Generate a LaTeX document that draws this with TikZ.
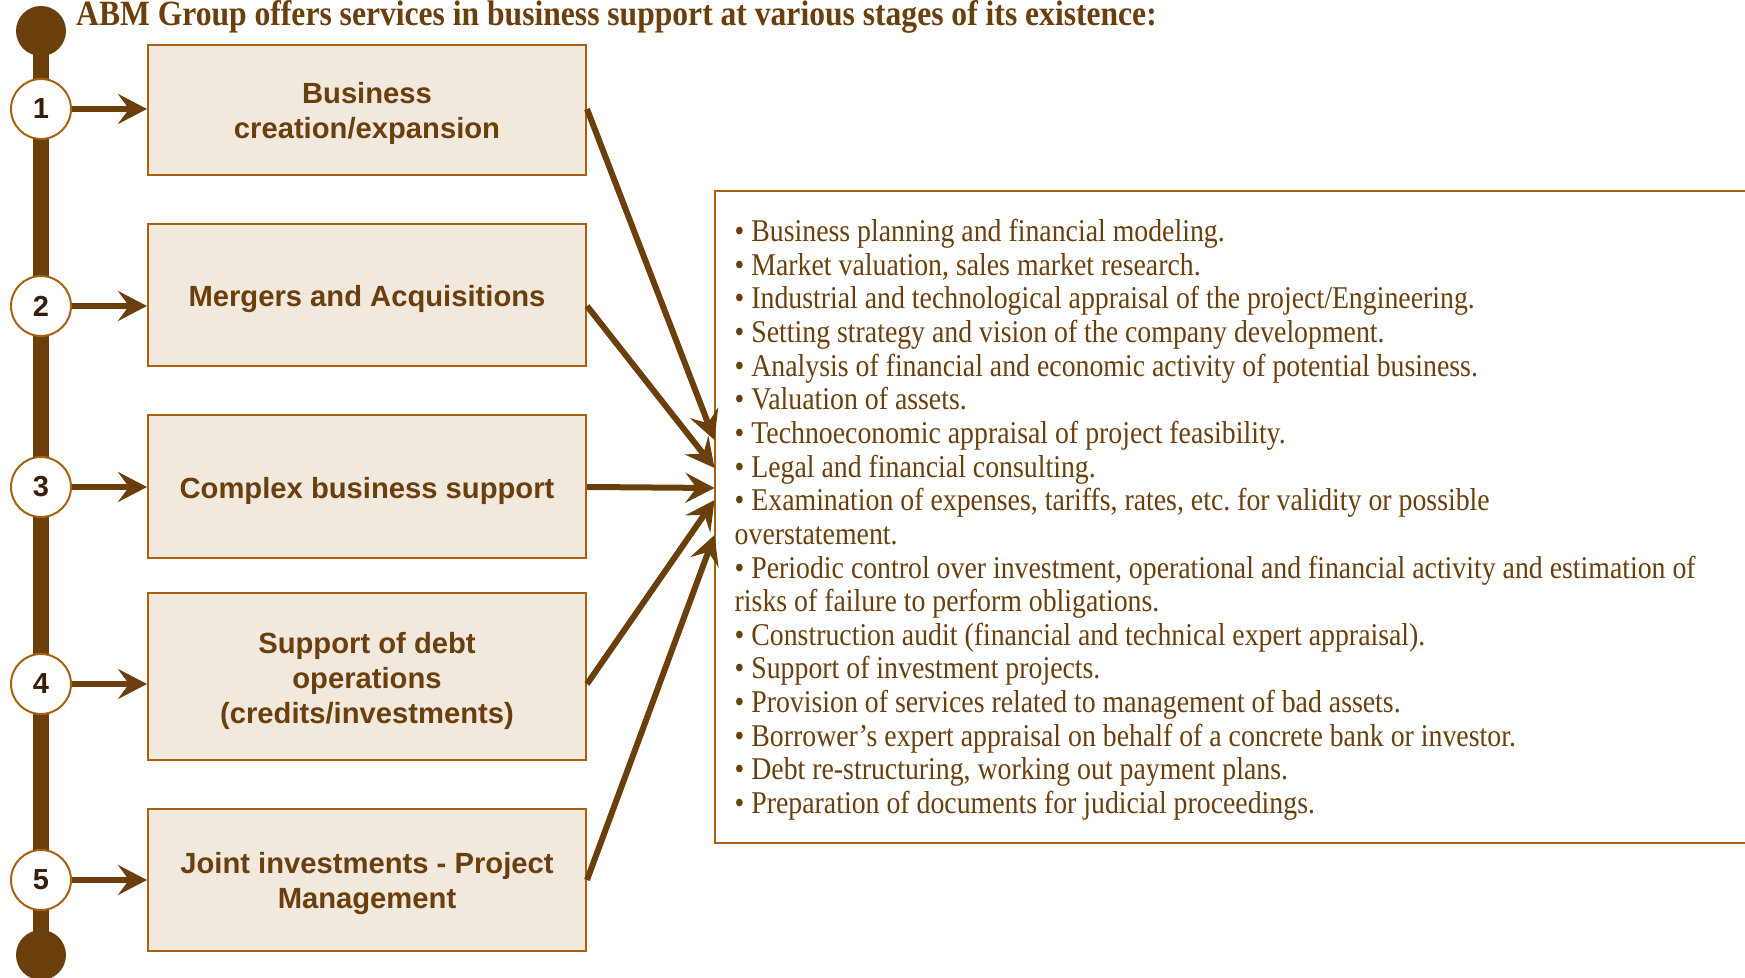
\documentclass[tikz,border=0pt]{standalone}
\usepackage{fontspec}
\setmainfont[FakeStretch=0.877]{Liberation Serif}
\setsansfont{Liberation Sans}
\newfontfamily\titlefont[FakeStretch=0.89]{Liberation Serif}
\usetikzlibrary{arrows.meta}
\frenchspacing
\definecolor{abmbrown}{HTML}{6B3F0C}
\definecolor{abmline}{HTML}{A8610F}
\definecolor{abmfill}{HTML}{F1E8DE}
\definecolor{abmnum}{HTML}{3A1D08}
\tikzstyle{enddot} = [circle, fill=abmbrown, minimum size=50pt, inner sep=0pt]
\tikzstyle{num}    = [circle, draw=abmline, line width=2pt, fill=white, minimum size=60pt, inner sep=0pt, text=abmnum, font=\sffamily\bfseries\fontsize{29}{29}\selectfont]
\tikzstyle{stage}  = [draw=abmline, line width=2pt, fill=abmfill, minimum width=438pt, text width=420pt, align=flush center, inner sep=0pt, text=abmbrown, font=\sffamily\bfseries\fontsize{29.2}{35}\selectfont, execute at begin node=\rule{0pt}{28.5pt}]
\tikzstyle{link}   = [abmbrown, line width=6pt, -{Stealth[length=29pt,width=30pt,inset=11pt]}]

\begin{document}
\begin{tikzpicture}[x=1pt,y=1pt]
  \useasboundingbox (0,0) rectangle (1745,977);
  \node[anchor=base west, inner sep=0pt, text=abmbrown, font=\titlefont\bfseries\fontsize{35.5}{38}\selectfont] (title) at (76,951) {ABM Group offers services in business support at various stages of its existence:};
  \node[enddot] (top)    at (41,946) {};
  \node[enddot] (bottom) at (41,22)  {};
  \draw[abmbrown, line width=16pt] (top.center) -- (bottom.center);
  \node[num] (n1) at (41,868) {1};
  \node[num] (n2) at (41,671) {2};
  \node[num] (n3) at (41,490) {3};
  \node[num] (n4) at (41,293) {4};
  \node[num] (n5) at (41,97)  {5};
  \node[stage, minimum height=130pt] (s1) at (367,867) {Business\\creation/expansion};
  \node[stage, minimum height=142pt] (s2) at (367,682) {Mergers and Acquisitions};
  \node[stage, minimum height=143pt] (s3) at (367,490) {Complex business support};
  \node[stage, minimum height=167pt] (s4) at (367,300) {Support of debt\\operations\\(credits/investments)};
  \node[stage, minimum height=142pt] (s5) at (367,97)  {Joint investments - Project\\Management};
  \foreach \i in {1,...,5}
    \draw[link] (n\i.east) -- (s\i.west |- n\i.east);
  \node[anchor=west, minimum width=1040pt, minimum height=651.5pt, text width=1000pt, inner xsep=20pt, inner ysep=0pt, align=flush left, text=abmbrown, font=\rmfamily\fontsize{31.7}{33.65}\selectfont, execute at begin node=\rule{0pt}{28pt}] (list) at (714.5,460) {%
• Business planning and financial modeling.\\
• Market valuation, sales market research.\\
• Industrial and technological appraisal of the project/Engineering.\\
• Setting strategy and vision of the company development.\\
• Analysis of financial and economic activity of potential business.\\
• Valuation of assets.\\
• Technoeconomic appraisal of project feasibility.\\
• Legal and financial consulting.\\
• Examination of expenses, tariffs, rates, etc. for validity or possible\\
overstatement.\\
• Periodic control over investment, operational and financial activity and estimation of\\
risks of failure to perform obligations.\\
• Construction audit (financial and technical expert appraisal).\\
• Support of investment projects.\\
• Provision of services related to management of bad assets.\\
• Borrower’s expert appraisal on behalf of a concrete bank or investor.\\
• Debt re-structuring, working out payment plans.\\
• Preparation of documents for judicial proceedings.};
  \draw[abmline, line width=2pt] (list.north east) -- (list.north west) -- (list.south west) -- (list.south east);
  \draw[link] (s1.east |- n1) -- ([yshift=77pt]list.west);
  \draw[link] (s2.east |- n2) -- ([yshift=49pt]list.west);
  \draw[link] (s3.east |- n3) -- ([yshift=29pt]list.west);
  \draw[link] (s4.east |- n4) -- ([yshift=17pt]list.west);
  \draw[link] (s5.east |- n5) -- ([yshift=-18pt]list.west);
\end{tikzpicture}
\end{document}
